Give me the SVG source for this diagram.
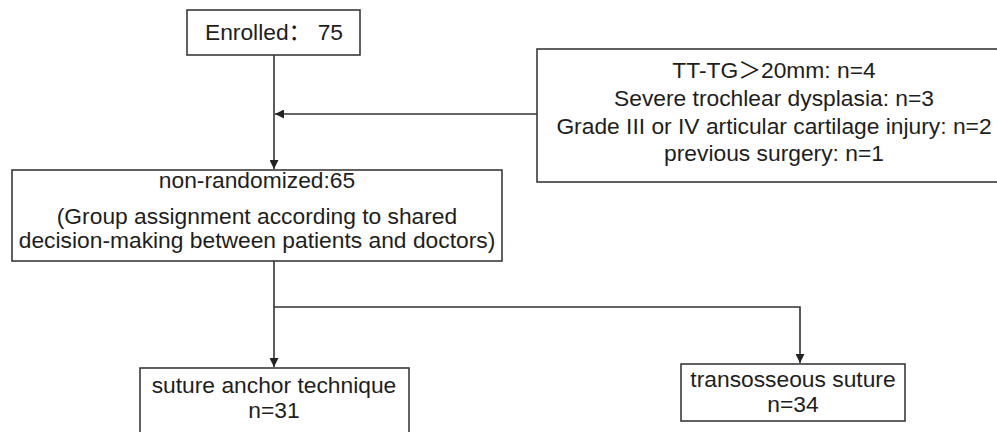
<svg xmlns="http://www.w3.org/2000/svg" width="997" height="432" viewBox="0 0 997 432">
<defs>
<style>
.box{fill:#fff;stroke:#3a3a3a;stroke-width:1.6}
.t{font-family:"Liberation Sans","Noto Sans CJK SC",Arial,sans-serif;font-size:22.8px;fill:#1e1e1e;text-anchor:middle}
.c{fill:none;stroke:#333;stroke-width:1.6}
</style>
<marker id="ah" viewBox="0 0 10 10" refX="10" refY="5" markerWidth="10" markerHeight="9" markerUnits="userSpaceOnUse" orient="auto">
<path d="M0,0 L10,5 L0,10 Z" fill="#222"/>
</marker>
</defs>
<rect width="997" height="432" fill="#fff"/>
<g id="connectors">
<path class="c" d="M274,55 V169" marker-end="url(#ah)"/>
<path class="c" d="M537,114 H275" marker-end="url(#ah)"/>
<path class="c" d="M274,261 V367" marker-end="url(#ah)"/>
<path class="c" d="M274,307 H800 V363" marker-end="url(#ah)"/>
</g>
<g id="enrolled">
<rect class="box" x="187" y="10" width="173" height="45"/>
<text class="t" x="274" y="40">Enrolled： 75</text>
</g>
<g id="excluded">
<rect class="box" x="537" y="49" width="480" height="133"/>
<text class="t" x="774" y="78">TT-TG＞20mm: n=4</text>
<text class="t" x="774" y="106">Severe trochlear dysplasia: n=3</text>
<text class="t" x="774" y="134">Grade III or IV articular cartilage injury: n=2</text>
<text class="t" x="774" y="161">previous surgery: n=1</text>
</g>
<g id="nonrandomized">
<rect class="box" x="12" y="170" width="490" height="91"/>
<text class="t" x="257" y="188">non-randomized:65</text>
<text class="t" x="257" y="224">(Group assignment according to shared</text>
<text class="t" x="257" y="248">decision-making between patients and doctors)</text>
</g>
<g id="anchor">
<rect class="box" x="140" y="368" width="269" height="70"/>
<text class="t" x="274" y="393">suture anchor technique</text>
<text class="t" x="274" y="418">n=31</text>
</g>
<g id="transosseous">
<rect class="box" x="681" y="364" width="224" height="57"/>
<text class="t" x="793" y="387">transosseous suture</text>
<text class="t" x="793" y="412">n=34</text>
</g>
</svg>
